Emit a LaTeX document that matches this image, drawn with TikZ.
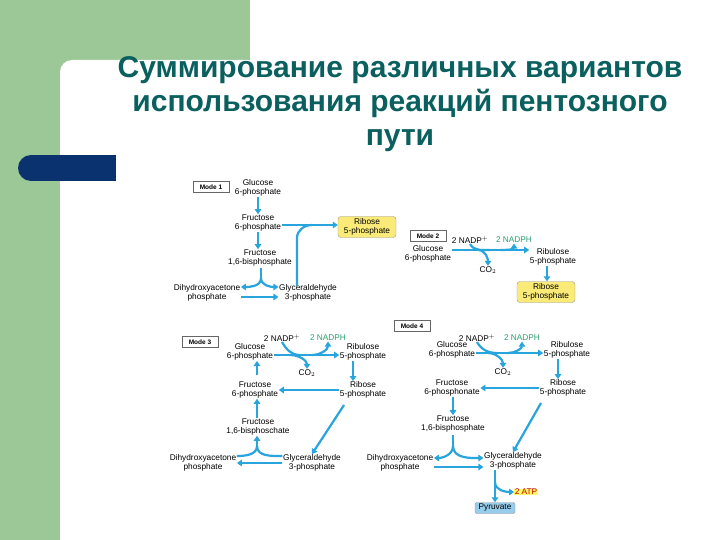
\documentclass[tikz,border=0pt]{standalone}
\usepackage{fontspec}
\setmainfont{Liberation Sans}
\usetikzlibrary{arrows.meta}
\definecolor{sgreen}{RGB}{155,200,150}
\definecolor{navy}{RGB}{10,50,110}
\definecolor{ttl}{RGB}{10,95,95}
\definecolor{arr}{RGB}{40,165,220}
\definecolor{ngreen}{RGB}{40,160,110}
\definecolor{ylw}{RGB}{250,235,120}
\definecolor{pyr}{RGB}{150,205,235}
\begin{document}
\begin{tikzpicture}[x=1pt,y=-1pt,
  lbl/.style={font=\fontsize{8.3}{8.8}\selectfont,align=center,inner sep=0.5pt},
  modebox/.style={draw=black!60,font=\fontsize{6.5}{6.5}\selectfont\bfseries,minimum width=36pt,minimum height=11pt,inner sep=1pt},
  ybox/.style={lbl,fill=ylw,draw=black!40,rounded corners=3pt,minimum width=58pt,minimum height=21pt},
  ar/.style={arr,line width=2.2pt,-{Triangle[length=5pt,width=6.5pt]}},
  ln/.style={arr,line width=2.2pt},
  ttlstyle/.style={font=\fontsize{30}{34}\selectfont\bfseries,text=ttl,align=center}]
\useasboundingbox (0,0) rectangle (720,540);
\fill[white] (0,0) rectangle (720,540);
\fill[sgreen] (0,0) rectangle (250,72);
\fill[sgreen] (0,0) rectangle (72,540);
\fill[white,rounded corners=12pt] (60,580) -- (60,60) -- (260,60) -- (260,580) -- cycle;
\fill[white] (250,0) rectangle (720,60);
\fill[navy] (31,155) rectangle (116,181);
\fill[navy] (31,168) circle (13);
\node[ttlstyle] (title) at (400,104) {Суммирование различных вариантов\\использования реакций пентозного\\пути};
% Mode 1
\node[modebox] (m1) at (211,187) {Mode 1};
\node[lbl] (g6) at (258,188) {Glucose\\6-phosphate};
\node[lbl] (f6) at (258,223) {Fructose\\6-phosphate};
\node[lbl] (f16) at (260,258) {Fructose\\1,6-bisphosphate};
\node[lbl] (dh) at (207,293) {Dihydroxyacetone\\phosphate};
\node[lbl] (ga) at (308,293) {Glyceraldehyde\\3-phosphate};
\node[ybox] (r1) at (367,227) {Ribose\\5-phosphate};
\draw[ar] (g6) -- (f6);
\draw[ar] (f6.south) -- (f6.south|-f16.north);
\draw[ln] (261,268) -- (261,278);
\draw[ar] (261,278) to[out=-90,in=0] (dh.east|-0,287);
\draw[ar] (261,278) to[out=-90,in=180] (ga.west|-0,287);
\draw[ar] (dh.east|-0,297) -- (ga.west|-0,297);
\draw[ar] (f6.east|-0,225) -- (r1.west|-0,225);
\draw[ln] (297,286) -- (297,238) to[out=90,in=180] (312,225);
% Mode 2
\node[modebox] (m2) at (428,236) {Mode 2};
\node[lbl] (nadp2) at (470,240) {2 NADP$^+$};
\node[lbl,text=ngreen] (nadph2) at (514,240) {2 NADPH};
\node[lbl] (g62) at (428,254) {Glucose\\6-phosphate};
\node[lbl] (co22) at (488,270) {CO$_2$};
\node[lbl] (ru2) at (553,257) {Ribulose\\5-phosphate};
\node[ybox] (r2) at (546,292) {Ribose\\5-phosphate};
\draw[ar] (g62.east|-0,250) -- (ru2.west|-0,250);
\draw[ln] (nadp2.south) to[out=-60,in=180] (490,250);
\draw[ar] (500,250) to[out=0,in=-90] (nadph2.south);
\draw[ar] (478,250) to[out=0,in=90] (co22.north);
\draw[ar] (ru2.south-|547,0) -- (r2.north-|547,0);
% Mode 3
\node[modebox] (m3) at (200,342) {Mode 3};
\node[modebox] (m4) at (412,326) {Mode 4};
\node[lbl] (nadp3) at (282,338) {2 NADP$^+$};
\node[lbl,text=ngreen] (nadph3) at (328,338) {2 NADPH};
\node[lbl] (g63) at (250,352) {Glucose\\6-phosphate};
\node[lbl] (co23) at (307,373) {CO$_2$};
\node[lbl] (ru3) at (363,352) {Ribulose\\5-phosphate};
\node[lbl] (r3) at (363,390) {Ribose\\5-phosphate};
\node[lbl] (f63) at (255,390) {Fructose\\6-phosphate};
\node[lbl] (f163) at (258,427) {Fructose\\1,6-bisphoschate};
\node[lbl] (dh3) at (203,463) {Dihydroxyacetone\\phosphate};
\node[lbl] (ga3) at (312,463) {Glyceraldehyde\\3-phosphate};
\draw[ar] (g63.east|-0,355) -- (ru3.west|-0,355);
\draw[ln] (nadp3.south) to[out=-60,in=180] (300,355);
\draw[ar] (312,355) to[out=0,in=-90] (nadph3.south);
\draw[ar] (290,355) to[out=0,in=90] (co23.north);
\draw[ar] (ru3.south-|353,0) -- (r3.north-|353,0);
\draw[ar] (r3.west) -- (f63.east);
\draw[ar] (f163.north-|257,0) -- (f63.south-|257,0);
\draw[ar] (g63.south-|257,0) ++(0,14) -- (g63.south-|257,0);
\draw[ar] (344,405) -- (ga3.north);
\draw[ar] (ga3.west) -- (dh3.east);
\draw[ln] (dh3.east|-0,456) to[out=0,in=-90] (257,446);
\draw[ln] (ga3.west|-0,456) to[out=180,in=-90] (257,446);
\draw[ar] (257,447) -- (f163.south-|257,0);
% Mode 4
\node[lbl] (nadp4) at (477,338) {2 NADP$^+$};
\node[lbl,text=ngreen] (nadph4) at (522,338) {2 NADPH};
\node[lbl] (g64) at (452,350) {Glucose\\6-phosphate};
\node[lbl] (co24) at (503,372) {CO$_2$};
\node[lbl] (ru4) at (567,350) {Ribulose\\5-phosphate};
\node[lbl] (r4) at (563,388) {Ribose\\5-phosphate};
\node[lbl] (f64) at (452,388) {Fructose\\6-phosphonate};
\node[lbl] (f164) at (453,424) {Fructose\\1,6-bisphosphate};
\node[lbl] (dh4) at (400,463) {Dihydroxyacetone\\phosphate};
\node[lbl] (ga4) at (513,461) {Glyceraldehyde\\3-phosphate};
\node[lbl,text=red!80!black,fill=yellow!60] (atp) at (526,492) {2 ATP};
\node[lbl,fill=pyr,draw=black!40,rounded corners=2pt,minimum width=40pt,minimum height=11pt] (py) at (495,508) {Pyruvate};
\draw[ar] (g64.east|-0,353) -- (ru4.west|-0,353);
\draw[ln] (nadp4.south) to[out=-60,in=180] (497,353);
\draw[ar] (508,353) to[out=0,in=-90] (nadph4.south);
\draw[ar] (488,353) to[out=0,in=90] (co24.north);
\draw[ar] (ru4.south-|558,0) -- (r4.north-|558,0);
\draw[ar] (r4.west) -- (f64.east);
\draw[ar] (f64.south-|453,0) -- (f164.north-|453,0);
\draw[ar] (541,403) -- (ga4.north);
\draw[ln] (453,435) -- (453,446);
\draw[ar] (453,446) to[out=-90,in=0] (dh4.east|-0,458);
\draw[ar] (453,446) to[out=-90,in=180] (ga4.west|-0,458);
\draw[ar] (dh4.east|-0,467) -- (ga4.west|-0,467);
\draw[ar] (ga4.south-|495,0) -- (py.north-|495,0);
\draw[ar] (495,482) to[out=-90,in=180] (atp.west);
\end{tikzpicture}
\end{document}
